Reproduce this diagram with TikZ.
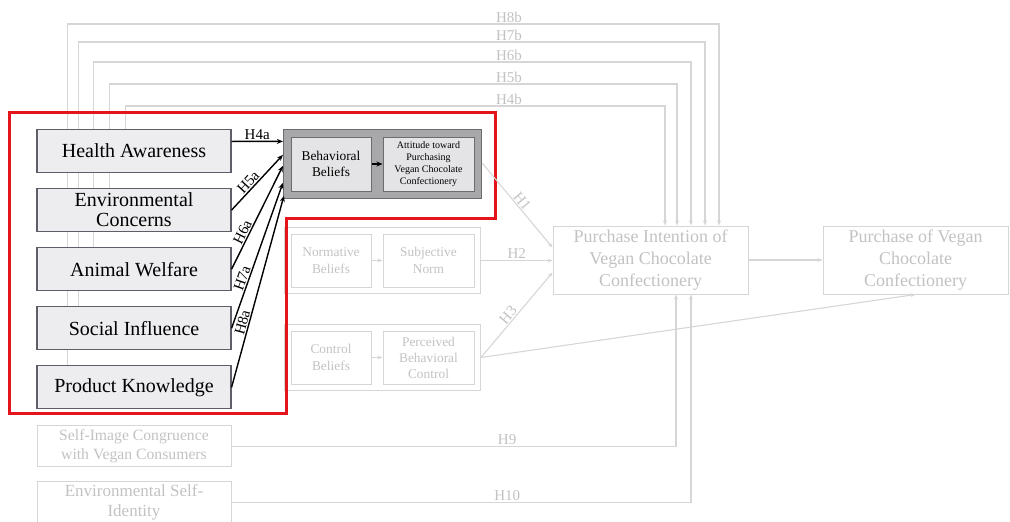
\documentclass[tikz,border=0pt]{standalone}
\usepackage{fontspec}
\setmainfont{Liberation Serif}
\usetikzlibrary{arrows.meta,positioning,fit,calc,backgrounds}
\definecolor{boxgray}{HTML}{EDEDF0}
\definecolor{boxline}{HTML}{5E5E68}
\definecolor{grpgray}{HTML}{A8A8AA}
\definecolor{grpline}{HTML}{6C6C70}
\definecolor{innergray}{HTML}{E4E4E6}
\definecolor{fadeline}{HTML}{D6D6D6}
\definecolor{fadetext}{HTML}{C2C2C2}
\definecolor{hired}{HTML}{E3141B}
\tikzset{
  lbox/.style={draw=boxline,fill=boxgray,line width=1.1pt,align=center,inner sep=2pt,
               minimum width=194pt,minimum height=43pt,font=\fontsize{20}{20}\selectfont},
  ibox/.style={draw=grpline,fill=innergray,line width=1pt,align=center,inner sep=2pt,minimum height=54pt},
  fbox/.style={draw=fadeline,line width=1pt,text=fadetext,align=center,inner sep=2pt},
  arr/.style={-{Stealth[length=6pt,width=5pt]},line width=1.4pt,black},
  farr/.style={-{Stealth[length=5pt,width=4pt]},line width=1.1pt,fadeline},
  hlbl/.style={font=\fontsize{15}{15}\selectfont,inner sep=1pt},
  flbl/.style={hlbl,text=fadetext},
}
\begin{document}
\begin{tikzpicture}[x=1pt,y=-1pt]
  \useasboundingbox (0,0) rectangle (1010,522);

  % antecedents
  \node[lbox] (ha) at (134,151) {Health Awareness};
  \node[lbox,below=15pt of ha] (ec) {Environmental\\Concerns};
  \node[lbox,below=15pt of ec] (aw) {Animal Welfare};
  \node[lbox,below=15pt of aw] (si) {Social Influence};
  \node[lbox,below=15pt of si] (pk) {Product Knowledge};
  \node[fbox,minimum width=194pt,minimum height=41pt,font=\fontsize{15.7}{19}\selectfont,below=16pt of pk]
       (sic) {Self-Image Congruence\\with Vegan Consumers};
  \node[fbox,minimum width=194pt,minimum height=41pt,inner sep=0pt,font=\fontsize{17}{20}\selectfont,below=14pt of sic]
       (esi) {Environmental Self-\\Identity};

  % TPB blocks
  \node[ibox,minimum width=80pt,font=\fontsize{13.4}{16}\selectfont] (bb) at (331,164) {Behavioral\\Beliefs};
  \node[ibox,minimum width=91pt,font=\fontsize{10}{12}\selectfont,right=11pt of bb]
       (att) {Attitude toward\\Purchasing\\Vegan Chocolate\\Confectionery};
  \begin{scope}[on background layer]
    \node[draw=grpline,fill=grpgray,line width=1.2pt,fit=(bb)(att),inner sep=7pt] (grp) {};
  \end{scope}

  \node[fbox,minimum width=80pt,minimum height=53pt,font=\fontsize{13.4}{17}\selectfont] (nb) at (331,260.5) {Normative\\Beliefs};
  \node[fbox,minimum width=91pt,minimum height=53pt,font=\fontsize{13.4}{17}\selectfont,right=11pt of nb] (sn) {Subjective\\Norm};
  \node[fbox,fit=(nb)(sn),inner sep=6pt] (ngrp) {};

  \node[fbox,minimum width=80pt,minimum height=53pt,font=\fontsize{13.4}{17}\selectfont] (cb) at (331,357.5) {Control\\Beliefs};
  \node[fbox,minimum width=91pt,minimum height=53pt,font=\fontsize{13.4}{16}\selectfont,right=11pt of cb] (pbc) {Perceived\\Behavioral\\Control};
  \node[fbox,fit=(cb)(pbc),inner sep=6pt] (cgrp) {};

  % outcomes
  \node[fbox,minimum width=195pt,minimum height=68pt,font=\fontsize{18}{22}\selectfont] (pi) at (650.5,260)
       {Purchase Intention of\\Vegan Chocolate\\Confectionery};
  \node[fbox,minimum width=185pt,minimum height=68pt,font=\fontsize{18}{22}\selectfont,right=74pt of pi]
       (pov) {Purchase of Vegan\\Chocolate\\Confectionery};

  % highlighted part
  \draw[hired,line width=3pt] (9,112) -- (495,112) -- (495,218) -- (286,218) -- (286,413) -- (9,413) -- cycle;

  \draw[arr] (bb) -- (att);
  \draw[arr] ($(ha.north east)+(0,12.5)$) -- node[hlbl,above]{H4a} ($(grp.north west)+(0,12.5)$);
  \draw[arr] (ec.east) -- node[hlbl,sloped,above,pos=0.42]{H5a} ($(grp.north west)+(0,26)$);
  \draw[arr] (aw.east) -- node[hlbl,sloped,above,pos=0.33]{H6a} ($(grp.north west)+(0,37)$);
  \draw[arr] (si.east) -- node[hlbl,sloped,above,pos=0.33]{H7a} ($(grp.north west)+(0,54)$);
  \draw[arr] (pk.east) -- node[hlbl,sloped,above,pos=0.33]{H8a} ($(grp.north west)+(1,67)$);

  % faded paths
  \draw[farr] (nb) -- (sn);
  \draw[farr] (cb) -- (pbc);
  \draw[farr] ($(grp.east)+(0,-1)$) -- node[flbl,sloped,above]{H1} ($(pi.north west)+(0,22)$);
  \draw[farr] (ngrp.east) -- node[flbl,above]{H2} (pi.west |- ngrp.east);
  \draw[farr] (cgrp.east) -- node[flbl,sloped,above,pos=0.45]{H3} ($(pi.south west)+(0,-22)$);
  \draw[farr] (pi) -- (pov);
  \draw[farr] (cgrp.east) -- (pov.south);

  \begin{scope}[on background layer]
    \foreach \src/\dx/\yy/\xx/\lab in {ha/89/106/665/H4b,ec/73/84/677/H5b,aw/57/62/691/H6b,si/42/42/705/H7b,pk/31/24/719/H8b}{
      \coordinate (k\lab) at (\xx,\yy);
      \draw[farr] ($(\src.north west)+(\dx,0)$) |- (k\lab) -- (k\lab |- pi.north);
      \node[flbl,above] at (509,\yy) {\lab};
    }
  \end{scope}
  \coordinate (k9) at (676,0);
  \coordinate (k10) at (691,0);
  \draw[farr] (sic.east) -| node[flbl,above,pos=0.31]{H9} (k9 |- pi.south);
  \draw[farr] (esi.east) -| node[flbl,above,pos=0.30]{H10} (k10 |- pi.south);
\end{tikzpicture}
\end{document}
